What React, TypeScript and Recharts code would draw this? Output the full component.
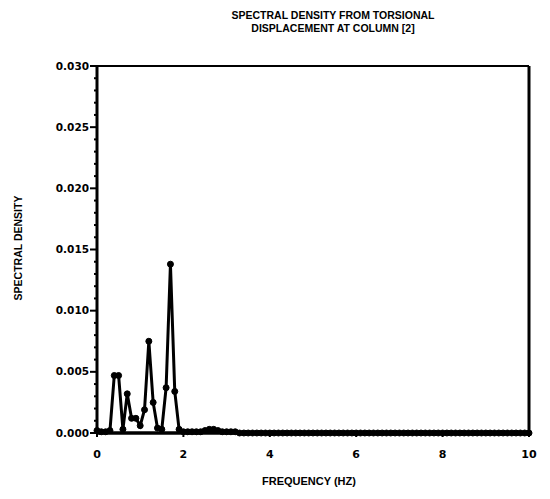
import React from "react";
import { LineChart, Line, XAxis, YAxis, ReferenceLine } from "recharts";

const frequencies = [
  0.0, 0.1, 0.2, 0.3, 0.4, 0.5, 0.6, 0.7, 0.8, 0.9,
  1.0, 1.1, 1.2, 1.3, 1.4, 1.5, 1.6, 1.7, 1.8, 1.9,
  2.0, 2.1, 2.2, 2.3, 2.4, 2.5, 2.6, 2.7, 2.8, 2.9,
  3.0, 3.1, 3.2, 3.3, 3.4, 3.5, 3.6, 3.7, 3.8, 3.9,
  4.0, 4.1, 4.2, 4.3, 4.4, 4.5, 4.6, 4.7, 4.8, 4.9,
  5.0, 5.1, 5.2, 5.3, 5.4, 5.5, 5.6, 5.7, 5.8, 5.9,
  6.0, 6.1, 6.2, 6.3, 6.4, 6.5, 6.6, 6.7, 6.8, 6.9,
  7.0, 7.1, 7.2, 7.3, 7.4, 7.5, 7.6, 7.7, 7.8, 7.9,
  8.0, 8.1, 8.2, 8.3, 8.4, 8.5, 8.6, 8.7, 8.8, 8.9,
  9.0, 9.1, 9.2, 9.3, 9.4, 9.5, 9.6, 9.7, 9.8, 9.9,
  10.0,
];

const spectralDensity = [
  0.0002, 0.0001, 0.0001, 0.0002, 0.0047, 0.0047, 0.0003, 0.0032, 0.0012, 0.0012,
  0.0006, 0.0019, 0.0075, 0.0025, 0.0004, 0.0003, 0.0037, 0.0138, 0.0034, 0.0003,
  0.0001, 0.0001, 0.0001, 0.0001, 0.0001, 0.0002, 0.0003, 0.0003, 0.0002, 0.0001,
  0.0001, 0.0001, 0.0001, 0.0, 0.0, 0.0, 0.0, 0.0, 0.0, 0.0,
  0.0, 0.0, 0.0, 0.0, 0.0, 0.0, 0.0, 0.0, 0.0, 0.0,
  0.0, 0.0, 0.0, 0.0, 0.0, 0.0, 0.0, 0.0, 0.0, 0.0,
  0.0, 0.0, 0.0, 0.0, 0.0, 0.0, 0.0, 0.0, 0.0, 0.0,
  0.0, 0.0, 0.0, 0.0, 0.0, 0.0, 0.0, 0.0, 0.0, 0.0,
  0.0, 0.0, 0.0, 0.0, 0.0, 0.0, 0.0, 0.0, 0.0, 0.0,
  0.0, 0.0, 0.0, 0.0, 0.0, 0.0, 0.0, 0.0, 0.0, 0.0,
  0.0,
];

const xTicks = [0, 2, 4, 6, 8, 10];
const yMajorTicks = ["0.000", "0.005", "0.010", "0.015", "0.020", "0.025", "0.030"];
const yMinorTicks = [
  0, 0.001, 0.002, 0.003, 0.004, 0.005, 0.006, 0.007, 0.008, 0.009, 0.01,
  0.011, 0.012, 0.013, 0.014, 0.015, 0.016, 0.017, 0.018, 0.019, 0.02,
  0.021, 0.022, 0.023, 0.024, 0.025, 0.026, 0.027, 0.028, 0.029, 0.03,
];

const titleLines = ["SPECTRAL DENSITY FROM TORSIONAL", "DISPLACEMENT AT COLUMN [2]"];
const xLabel = "FREQUENCY (HZ)";
const yLabel = "SPECTRAL DENSITY";

const data = frequencies.map((f, i) => ({ f, v: spectralDensity[i] }));

const FONT = "'Liberation Sans', Arial, sans-serif";
const TICKFONT = "'DejaVu Sans', sans-serif";

const YTick = (props: any) => {
  const { x, y, payload } = props;
  const v = payload.value as number;
  const label = yMajorTicks.find((t) => Math.abs(parseFloat(t) - v) < 1e-7);
  if (label) {
    return (
      <g>
        <line x1={x - 7} x2={x} y1={y} y2={y} stroke="#000" strokeWidth={2} />
        <text x={x - 8} y={y} dy={3.5} textAnchor="end" fontFamily={TICKFONT} fontWeight="bold" fontSize={10.5} fill="#000">
          {label}
        </text>
      </g>
    );
  }
  return <line x1={x - 3} x2={x} y1={y} y2={y} stroke="#000" strokeWidth={2} />;
};

const XTick = (props: any) => {
  const { x, y, payload } = props;
  return (
    <g>
      <line x1={x} x2={x} y1={y} y2={y + 4} stroke="#000" strokeWidth={2} />
      <text x={x} y={y + 25} textAnchor="middle" fontFamily={TICKFONT} fontWeight="bold" fontSize={11} fill="#000">
        {payload.value}
      </text>
    </g>
  );
};

export default function App() {
  return (
    <div style={{ position: "absolute", left: 0, top: 0, width: 550, height: 499, background: "#fff" }}>
      <LineChart
        width={550}
        height={499}
        data={data}
        margin={{ top: 66, right: 21, bottom: 26, left: 0 }}
      >
        <XAxis
          dataKey="f"
          type="number"
          domain={[0, 10]}
          ticks={xTicks}
          tickSize={0}
          tickMargin={0}
          tickLine={false}
          height={40}
          axisLine={{ stroke: "#000", strokeWidth: 3.5 }}
          tick={<XTick />}
          interval={0}
        />
        <YAxis
          type="number"
          domain={[0, 0.03]}
          ticks={yMinorTicks}
          tickSize={0}
          tickMargin={0}
          tickLine={false}
          width={97}
          axisLine={{ stroke: "#000", strokeWidth: 3 }}
          tick={<YTick />}
          interval={0}
        />
        <ReferenceLine y={0.03} stroke="#000" strokeWidth={2} ifOverflow="visible" />
        <ReferenceLine x={10} stroke="#000" strokeWidth={3} ifOverflow="visible" />
        <Line
          dataKey="v"
          type="linear"
          stroke="#000"
          strokeWidth={3}
          dot={{ r: 3, fill: "#000", stroke: "#000", strokeWidth: 1 }}
          isAnimationActive={false}
        />
      </LineChart>
      <svg
        width={550}
        height={499}
        style={{ position: "absolute", left: 0, top: 0, pointerEvents: "none" }}
      >
        <text x={333} y={19} textAnchor="middle" fontFamily={FONT} fontWeight="bold" fontSize={10.5} fill="#000">
          {titleLines[0]}
        </text>
        <text x={333} y={32} textAnchor="middle" fontFamily={FONT} fontWeight="bold" fontSize={10.5} fill="#000">
          {titleLines[1]}
        </text>
        <text x={309} y={485} textAnchor="middle" fontFamily={FONT} fontWeight="bold" fontSize={11} fill="#000">
          {xLabel}
        </text>
        <text
          x={22}
          y={248}
          textAnchor="middle"
          fontFamily={FONT}
          fontWeight="bold"
          fontSize={10.5}
          fill="#000"
          transform="rotate(-90 22 248)"
        >
          {yLabel}
        </text>
      </svg>
    </div>
  );
}
